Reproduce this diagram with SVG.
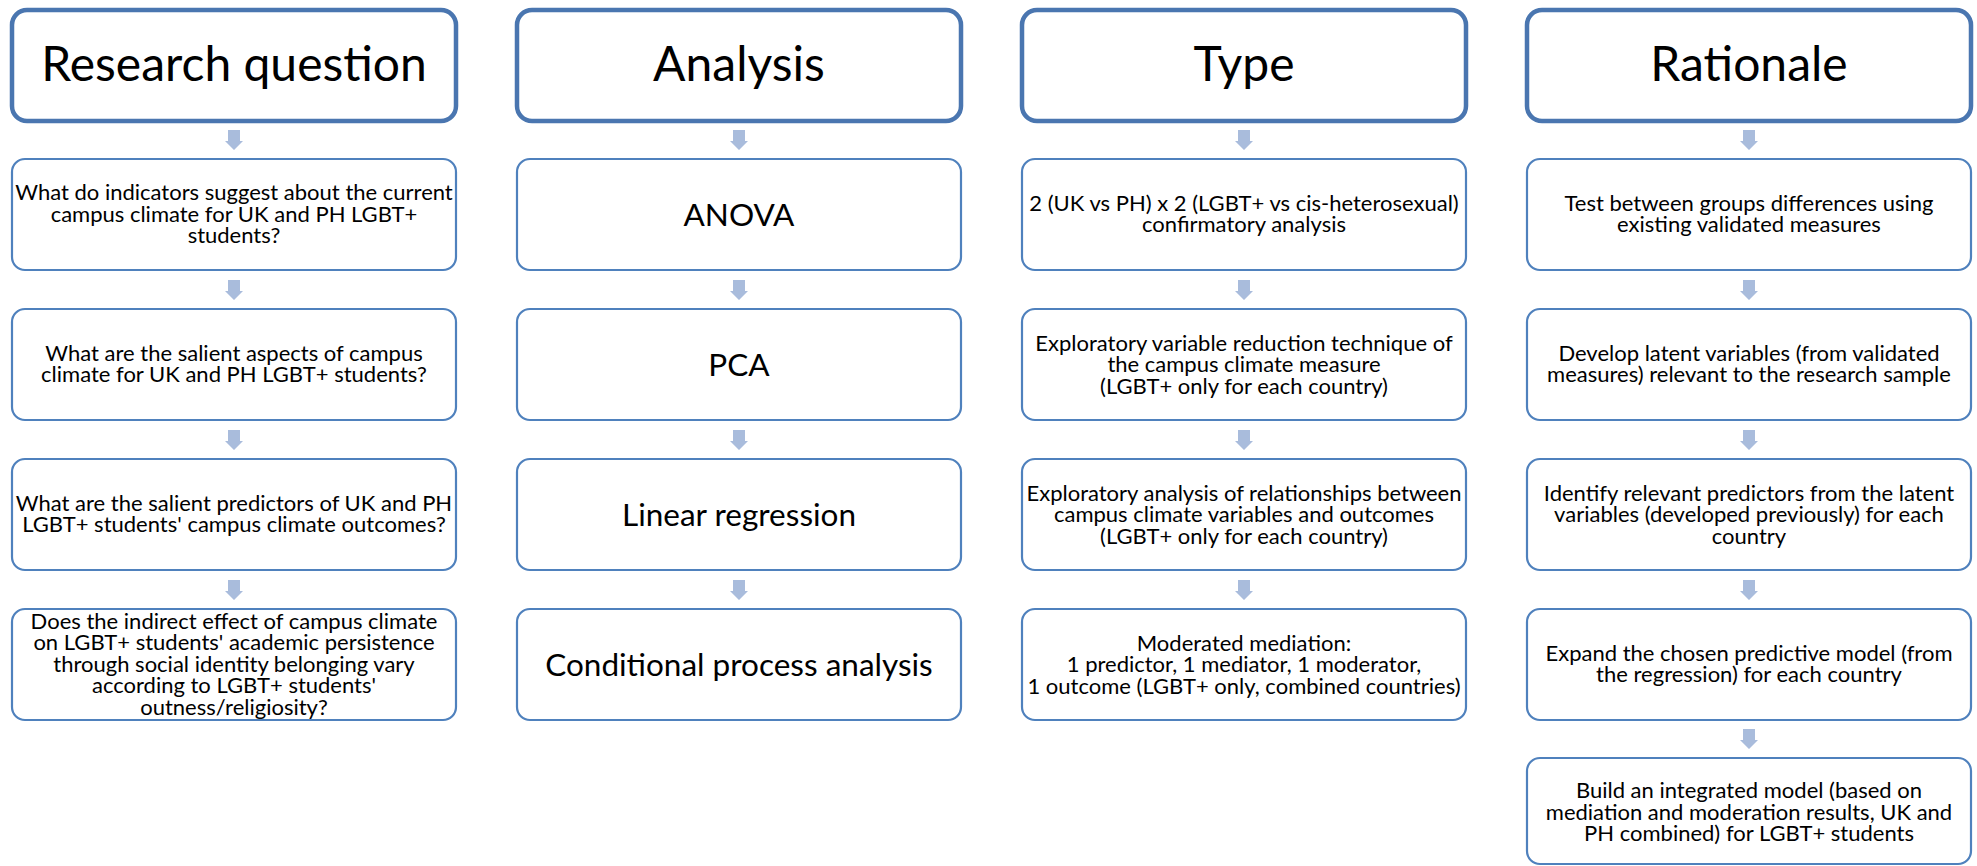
<svg xmlns="http://www.w3.org/2000/svg" width="1977" height="866" viewBox="0 0 1977 866">
  <style>
    .hdr { fill: #ffffff; stroke: #4a76b0; stroke-width: 4.5; }
    .box { fill: #ffffff; stroke: #4f81bd; stroke-width: 2.2; }
    .arrow { fill: #a9bcdc; stroke: none; }
    text { font-family: Lato, "Open Sans", "Liberation Sans", sans-serif; fill: #000000; text-anchor: middle; }
    .ht { font-size: 48px; }
    .bt { font-size: 22px; }
    .lg { font-size: 31.5px; }
  </style>
  <defs>
    <path id="arr" class="arrow" d="M -6 0 h 12 v 11 h 3 l -9 9 l -9 -9 h 3 z"/>
  </defs>
  <rect width="1977" height="866" fill="#ffffff"/>

  <!-- connectors: block arrows between stacked boxes -->
  <g id="connectors" class="arrow">
    <use href="#arr" x="234" y="130"/>
    <use href="#arr" x="234" y="280"/>
    <use href="#arr" x="234" y="430"/>
    <use href="#arr" x="234" y="580"/>
    <use href="#arr" x="739" y="130"/>
    <use href="#arr" x="739" y="280"/>
    <use href="#arr" x="739" y="430"/>
    <use href="#arr" x="739" y="580"/>
    <use href="#arr" x="1244" y="130"/>
    <use href="#arr" x="1244" y="280"/>
    <use href="#arr" x="1244" y="430"/>
    <use href="#arr" x="1244" y="580"/>
    <use href="#arr" x="1749" y="130"/>
    <use href="#arr" x="1749" y="280"/>
    <use href="#arr" x="1749" y="430"/>
    <use href="#arr" x="1749" y="580"/>
    <use href="#arr" x="1749" y="729"/>
  </g>

  <!-- column 1: research questions -->
  <g id="rq-header">
    <rect class="hdr" x="12" y="10" width="444" height="111" rx="15"/>
    <text class="ht" x="234" y="81">Research question</text>
  </g>
  <g id="rq-1">
    <rect class="box" x="12" y="159" width="444" height="111" rx="13"/>
    <text class="bt"><tspan x="234" y="200">What do indicators suggest about the current</tspan><tspan x="234" y="221.5">campus climate for UK and PH LGBT+</tspan><tspan x="234" y="243">students?</tspan></text>
  </g>
  <g id="rq-2">
    <rect class="box" x="12" y="309" width="444" height="111" rx="13"/>
    <text class="bt"><tspan x="234" y="360.75">What are the salient aspects of campus</tspan><tspan x="234" y="382.25">climate for UK and PH LGBT+ students?</tspan></text>
  </g>
  <g id="rq-3">
    <rect class="box" x="12" y="459" width="444" height="111" rx="13"/>
    <text class="bt"><tspan x="234" y="510.75">What are the salient predictors of UK and PH</tspan><tspan x="234" y="532.25">LGBT+ students' campus climate outcomes?</tspan></text>
  </g>
  <g id="rq-4">
    <rect class="box" x="12" y="609" width="444" height="111" rx="13"/>
    <text class="bt"><tspan x="234" y="628.5">Does the indirect effect of campus climate</tspan><tspan x="234" y="650">on LGBT+ students' academic persistence</tspan><tspan x="234" y="671.5">through social identity belonging vary</tspan><tspan x="234" y="693">according to LGBT+ students'</tspan><tspan x="234" y="714.5">outness/religiosity?</tspan></text>
  </g>

  <!-- column 2: analysis -->
  <g id="an-header">
    <rect class="hdr" x="517" y="10" width="444" height="111" rx="15"/>
    <text class="ht" x="739" y="81">Analysis</text>
  </g>
  <g id="an-1">
    <rect class="box" x="517" y="159" width="444" height="111" rx="13"/>
    <text class="lg" x="739" y="225.5">ANOVA</text>
  </g>
  <g id="an-2">
    <rect class="box" x="517" y="309" width="444" height="111" rx="13"/>
    <text class="lg" x="739" y="375.5">PCA</text>
  </g>
  <g id="an-3">
    <rect class="box" x="517" y="459" width="444" height="111" rx="13"/>
    <text class="lg" x="739" y="525.5">Linear regression</text>
  </g>
  <g id="an-4">
    <rect class="box" x="517" y="609" width="444" height="111" rx="13"/>
    <text class="lg" x="739" y="675.5">Conditional process analysis</text>
  </g>

  <!-- column 3: type -->
  <g id="ty-header">
    <rect class="hdr" x="1022" y="10" width="444" height="111" rx="15"/>
    <text class="ht" x="1244" y="81">Type</text>
  </g>
  <g id="ty-1">
    <rect class="box" x="1022" y="159" width="444" height="111" rx="13"/>
    <text class="bt"><tspan x="1244" y="210.75">2 (UK vs PH) x 2 (LGBT+ vs cis-heterosexual)</tspan><tspan x="1244" y="232.25">confirmatory analysis</tspan></text>
  </g>
  <g id="ty-2">
    <rect class="box" x="1022" y="309" width="444" height="111" rx="13"/>
    <text class="bt"><tspan x="1244" y="350.5">Exploratory variable reduction technique of</tspan><tspan x="1244" y="372">the campus climate measure</tspan><tspan x="1244" y="393.5">(LGBT+ only for each country)</tspan></text>
  </g>
  <g id="ty-3">
    <rect class="box" x="1022" y="459" width="444" height="111" rx="13"/>
    <text class="bt"><tspan x="1244" y="500.5">Exploratory analysis of relationships between</tspan><tspan x="1244" y="522">campus climate variables and outcomes</tspan><tspan x="1244" y="543.5">(LGBT+ only for each country)</tspan></text>
  </g>
  <g id="ty-4">
    <rect class="box" x="1022" y="609" width="444" height="111" rx="13"/>
    <text class="bt"><tspan x="1244" y="650.5">Moderated mediation:</tspan><tspan x="1244" y="672">1 predictor, 1 mediator, 1 moderator,</tspan><tspan x="1244" y="693.5">1 outcome (LGBT+ only, combined countries)</tspan></text>
  </g>

  <!-- column 4: rationale -->
  <g id="ra-header">
    <rect class="hdr" x="1527" y="10" width="444" height="111" rx="15"/>
    <text class="ht" x="1749" y="81">Rationale</text>
  </g>
  <g id="ra-1">
    <rect class="box" x="1527" y="159" width="444" height="111" rx="13"/>
    <text class="bt"><tspan x="1749" y="210.75">Test between groups differences using</tspan><tspan x="1749" y="232.25">existing validated measures</tspan></text>
  </g>
  <g id="ra-2">
    <rect class="box" x="1527" y="309" width="444" height="111" rx="13"/>
    <text class="bt"><tspan x="1749" y="360.75">Develop latent variables (from validated</tspan><tspan x="1749" y="382.25">measures) relevant to the research sample</tspan></text>
  </g>
  <g id="ra-3">
    <rect class="box" x="1527" y="459" width="444" height="111" rx="13"/>
    <text class="bt"><tspan x="1749" y="500.5">Identify relevant predictors from the latent</tspan><tspan x="1749" y="522">variables (developed previously) for each</tspan><tspan x="1749" y="543.5">country</tspan></text>
  </g>
  <g id="ra-4">
    <rect class="box" x="1527" y="609" width="444" height="111" rx="13"/>
    <text class="bt"><tspan x="1749" y="660.75">Expand the chosen predictive model (from</tspan><tspan x="1749" y="682.25">the regression) for each country</tspan></text>
  </g>
  <g id="ra-5">
    <rect class="box" x="1527" y="758" width="444" height="106" rx="13"/>
    <text class="bt"><tspan x="1749" y="798">Build an integrated model (based on</tspan><tspan x="1749" y="819.5">mediation and moderation results, UK and</tspan><tspan x="1749" y="841">PH combined) for LGBT+ students</tspan></text>
  </g>
</svg>
